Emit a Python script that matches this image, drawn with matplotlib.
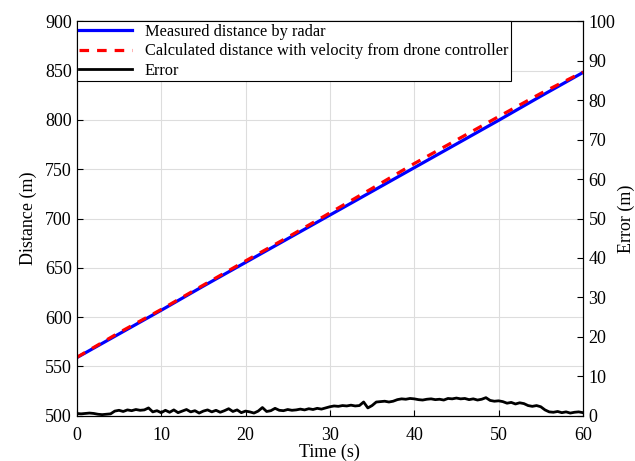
import numpy as np
import matplotlib
matplotlib.use('Agg')
import matplotlib.pyplot as plt

# distance curves, sampled every 5 s
dist_time = [0, 5, 10, 15, 20, 25, 30, 35, 40, 45, 50, 55, 60]
measured = [559, 583, 607, 631.5, 655.5, 679.5, 703.5, 727.5, 751.5, 775.5, 799.5, 824, 848]
calculated = [559.3, 584.3, 607.8, 632.5, 657, 681, 705.7, 730.5, 755.7, 779.5, 803.3, 826.8, 848.5]

# error, sampled every 0.5 s
error = [0.6, 0.5, 0.6, 0.7, 0.6,
         0.4, 0.3, 0.4, 0.5,
         1.2, 1.4, 1.1, 1.5, 1.3, 1.6, 1.4, 1.5,
         2.0, 1.0,
         1.3, 0.8, 1.4, 0.9, 1.5, 0.8, 1.2, 1.6, 1.0, 1.3, 0.7, 1.2, 1.5, 1.0, 1.4, 0.9,
         1.3, 1.8, 1.1, 1.5, 0.8, 1.2, 1.0,
         0.7,
         1.2, 2.1, 1.1, 1.3, 1.9, 1.4,
         1.3, 1.6, 1.4, 1.5, 1.7, 1.5, 1.8, 1.6, 1.9, 1.7, 2.0,
         2.3, 2.5, 2.4, 2.6, 2.5, 2.7, 2.5, 2.6,
         3.5, 2.0, 2.6,
         3.5, 3.6, 3.7, 3.5, 3.7,
         4.1, 4.3, 4.2, 4.4, 4.3, 4.1,
         4.0, 4.2, 4.3, 4.1, 4.2, 4.0,
         4.4, 4.3, 4.5, 4.3, 4.4,
         4.1, 4.3, 4.0, 4.2, 4.6,
         3.9, 3.7, 3.8, 3.6,
         3.2, 3.4, 3.0, 3.3, 3.1,
         2.6, 2.4, 2.6, 2.3,
         1.5, 1.0,
         0.9, 1.1, 0.8, 1.0, 0.7, 0.9, 1.0, 0.8]
err_time = np.linspace(0, 60, len(error))


def main():
    plt.rcParams['font.family'] = 'Liberation Serif'
    fig, ax = plt.subplots(figsize=(6.35, 4.61), dpi=100)
    fig.subplots_adjust(left=0.121, right=0.918, top=0.954, bottom=0.098)

    l1, = ax.plot(dist_time, measured, color='#0000ff', lw=2.3, label='Measured distance by radar')
    l2, = ax.plot(dist_time, calculated, color='#ff0000', lw=2.3, ls=(0, (3, 2.5)),
                  label='Calculated distance with velocity from drone controller')
    ax.set_xlim(0, 60)
    ax.set_ylim(500, 900)
    ax.set_xticks(range(0, 61, 10))
    ax.set_yticks(range(500, 901, 50))
    ax.grid(True, color='#dddddd', lw=0.8)
    ax.tick_params(direction='in', labelsize=13, length=4)
    ax.tick_params(axis='x', pad=8)
    ax.set_xlabel('Time (s)', fontsize=13, labelpad=0)
    ax.set_ylabel('Distance (m)', fontsize=13, labelpad=6)

    ax2 = ax.twinx()
    l3, = ax2.plot(err_time, error, color='black', lw=2, label='Error')
    ax2.set_ylim(0, 100)
    ax2.set_yticks(range(0, 101, 10))
    ax2.tick_params(direction='in', labelsize=13, length=4, pad=4)
    ax2.set_ylabel('Error (m)', fontsize=13, labelpad=2)

    leg = ax2.legend(handles=[l1, l2, l3], loc='upper left', borderaxespad=0,
                     fancybox=False, edgecolor='black', framealpha=1, fontsize=11.8,
                     handlelength=3.2, borderpad=0.15, labelspacing=0.22)
    leg.get_frame().set_linewidth(0.8)

    fig.savefig('out.png', dpi=100)


if __name__ == "__main__":
    main()
